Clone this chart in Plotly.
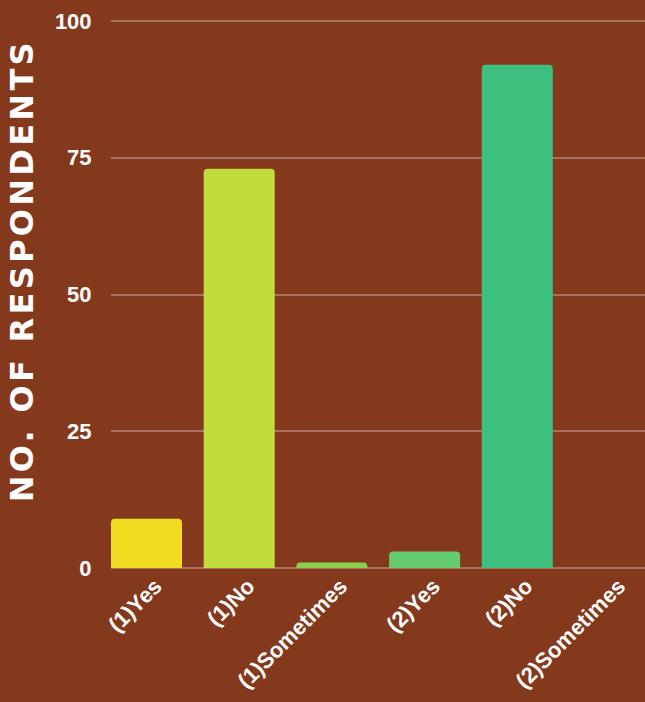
import plotly.graph_objects as go

categories = ["(1)Yes", "(1)No", "(1)Sometimes", "(2)Yes", "(2)No", "(2)Sometimes"]
values = [9, 73, 1, 3, 92, 0]
colors = ["#F2DC22", "#C2DC3E", "#8BCF4F", "#66CB6C", "#3DBF7E", "#2BB08A"]
y_ticks = [0, 25, 50, 75, 100]

BG = "#85391C"
GRID = "#A8725D"

fig = go.Figure(go.Bar(
    x=categories, y=values, marker=dict(color=colors, line=dict(width=0)),
    width=0.766,
))

fig.update_layout(
    width=645, height=702,
    margin=dict(l=111, r=0, t=18, b=134),
    paper_bgcolor=BG, plot_bgcolor=BG,
    barcornerradius=4,
    showlegend=False,
    font=dict(family="Liberation Sans", color="white"),
)
fig.update_xaxes(
    range=[-0.383, 5.378], showgrid=False, showline=False, zeroline=False,
    tickangle=-45, tickfont=dict(size=22, family="Liberation Sans", weight="bold"),
    ticks="", ticklen=0, ticklabelshift=9,
)
fig.update_yaxes(
    range=[0, 100.55], tickvals=y_ticks, showgrid=True, gridcolor=GRID, gridwidth=2,
    zeroline=True, zerolinecolor=GRID, zerolinewidth=2, showline=False,
    tickfont=dict(size=22, family="Liberation Sans", weight="bold"),
    ticks="outside", ticklen=14, tickcolor="rgba(0,0,0,0)",
)
fig.add_annotation(
    text="<span style='letter-spacing:3.3px'>NO. OF RESPONDENTS</span>",
    xref="paper", yref="paper", x=-0.165, y=0.541, xanchor="center", yanchor="middle",
    textangle=-90, showarrow=False,
    font=dict(size=32, family="DejaVu Sans", weight="bold", color="white"),
)
fig.write_html("out.html")
